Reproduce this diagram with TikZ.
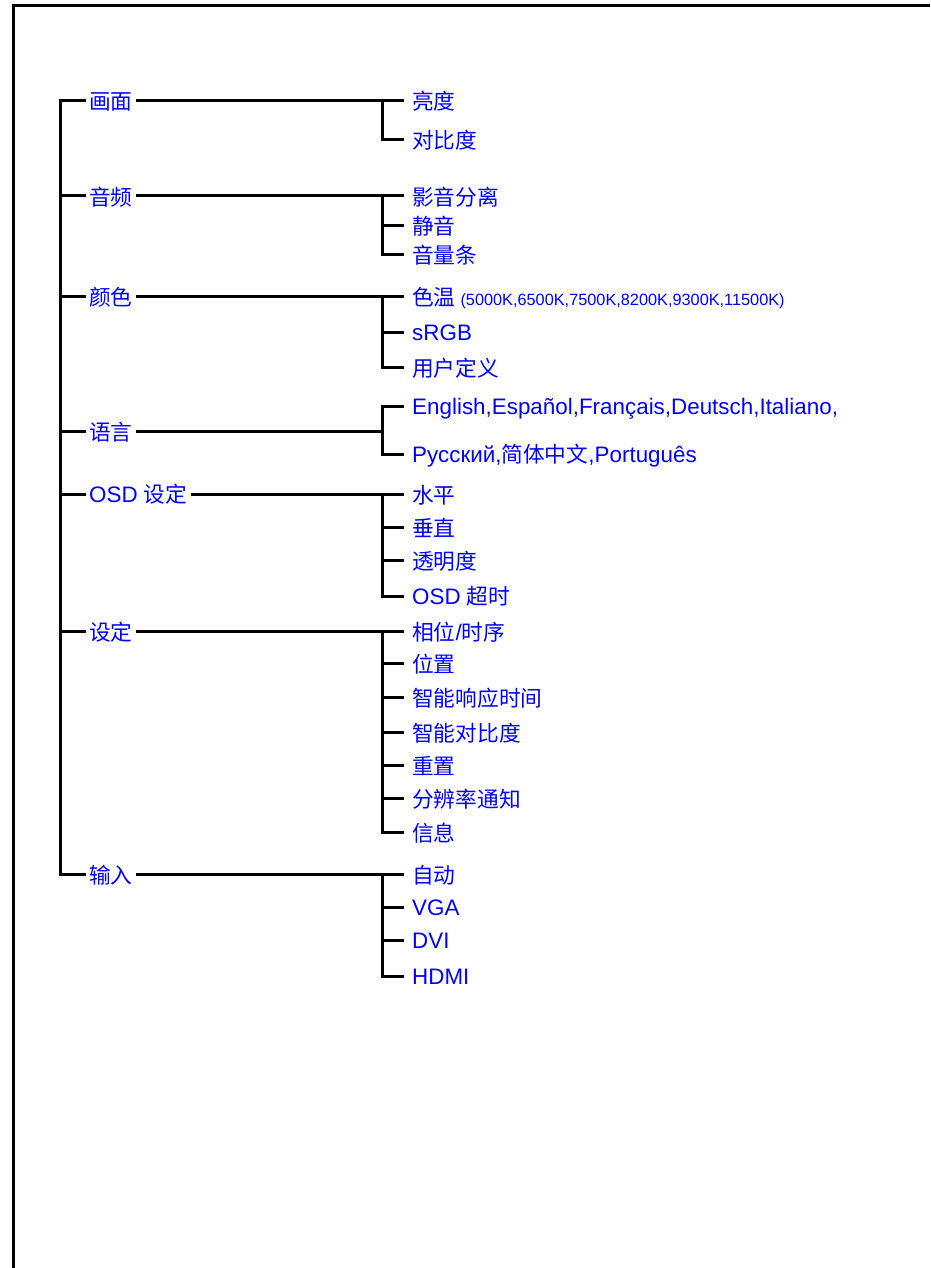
\documentclass[tikz,border=0pt]{standalone}
\usepackage{fontspec}
\setmainfont{Liberation Sans}
\newfontfamily\cjk{Noto Sans CJK SC}[Scale=0.97]
\definecolor{txtblue}{RGB}{0,0,255}
\tikzset{
  ln/.style={line width=3pt, line cap=butt, line join=miter, draw=black},
  frame/.style={line width=3pt, line cap=butt, line join=miter, draw=black},
  cat/.style={anchor=base west, inner xsep=3pt, inner ysep=0pt, text=txtblue, font=\fontsize{22.4}{26}\selectfont},
  leaf/.style={anchor=base west, inner xsep=8pt, inner ysep=0pt, text=txtblue, font=\fontsize{22.4}{26}\selectfont},
}
\begin{document}
\begin{tikzpicture}[x=1pt,y=-1pt]
\useasboundingbox (0,0) rectangle (930,1268);
% frame
\coordinate (fb) at (13.5,1268);
\coordinate (fc) at (13.5,5.5);
\coordinate (fr) at (930,5.5);
\draw[frame] (fb) -- (fc) -- (fr);

% trunk coordinates
\coordinate (t1) at (60,101);
\coordinate (t2) at (60,196);
\coordinate (t3) at (60,296);
\coordinate (t4) at (60,431);
\coordinate (t5) at (60,494);
\coordinate (t6) at (60,631);
\coordinate (t7) at (60,874);

% categories
\node[cat] (c1) at (86,110) {\cjk 画面};
\node[cat] (c2) at (86,205) {\cjk 音频};
\node[cat] (c3) at (86,305) {\cjk 颜色};
\node[cat] (c4) at (86,440) {\cjk 语言};
\node[cat] (c5) at (86,502) {OSD \cjk 设定};
\node[cat] (c6) at (86,640) {\cjk 设定};
\node[cat] (c7) at (86,883) {\cjk 输入};

% branch coordinates
\coordinate (b1) at (382.5,101);
\coordinate (b2) at (382.5,196);
\coordinate (b3) at (382.5,296);
\coordinate (b4) at (382.5,431);
\coordinate (b5) at (382.5,494);
\coordinate (b6) at (382.5,631);
\coordinate (b7) at (382.5,874);

% trunk
\draw[ln] (c1.west |- t1) -- (t1) -- (t7) -- (c7.west |- t7);
\draw[ln] (t2) -- (c2.west |- t2);
\draw[ln] (t3) -- (c3.west |- t3);
\draw[ln] (t4) -- (c4.west |- t4);
\draw[ln] (t5) -- (c5.west |- t5);
\draw[ln] (t6) -- (c6.west |- t6);

% category to branch
\draw[ln] (c1.east |- b1) -- (b1);
\draw[ln] (c2.east |- b2) -- (b2);
\draw[ln] (c3.east |- b3) -- (b3);
\draw[ln] (c4.east |- b4) -- (b4);
\draw[ln] (c5.east |- b5) -- (b5);
\draw[ln] (c6.east |- b6) -- (b6);
\draw[ln] (c7.east |- b7) -- (b7);

% leaf tick coordinates
\coordinate (k11) at (382.5,101);
\coordinate (k12) at (382.5,140);
\coordinate (k21) at (382.5,196);
\coordinate (k22) at (382.5,225);
\coordinate (k23) at (382.5,254);
\coordinate (k31) at (382.5,296);
\coordinate (k32) at (382.5,332);
\coordinate (k33) at (382.5,367);
\coordinate (k41) at (382.5,406);
\coordinate (k42) at (382.5,454);
\coordinate (k51) at (382.5,494);
\coordinate (k52) at (382.5,527);
\coordinate (k53) at (382.5,560);
\coordinate (k54) at (382.5,596);
\coordinate (k61) at (382.5,631);
\coordinate (k62) at (382.5,663);
\coordinate (k63) at (382.5,697);
\coordinate (k64) at (382.5,732);
\coordinate (k65) at (382.5,765);
\coordinate (k66) at (382.5,798);
\coordinate (k67) at (382.5,832);
\coordinate (k71) at (382.5,874);
\coordinate (k72) at (382.5,907);
\coordinate (k73) at (382.5,940);
\coordinate (k74) at (382.5,976);

% leaves
\node[leaf] (l11) at (404,110) {\cjk 亮度};
\node[leaf] (l12) at (404,149) {\cjk 对比度};
\node[leaf] (l21) at (404,205) {\cjk 影音分离};
\node[leaf] (l22) at (404,234) {\cjk 静音};
\node[leaf] (l23) at (404,263) {\cjk 音量条};
\node[leaf] (l31) at (404,305) {\cjk 色温 {\rmfamily\fontsize{16.3}{18}\selectfont (5000K,6500K,7500K,8200K,9300K,11500K)}};
\node[leaf] (l32) at (404,340) {sRGB};
\node[leaf] (l33) at (404,376) {\cjk 用户定义};
\node[leaf] (l41) at (404,414) {English,Español,Français,Deutsch,Italiano,};
\node[leaf] (l42) at (404,462) {Русский,{\cjk 简体中文},Português};
\node[leaf] (l51) at (404,503) {\cjk 水平};
\node[leaf] (l52) at (404,536) {\cjk 垂直};
\node[leaf] (l53) at (404,569) {\cjk 透明度};
\node[leaf] (l54) at (404,604) {OSD \cjk 超时};
\node[leaf] (l61) at (404,640) {\cjk 相位{\rmfamily /}时序};
\node[leaf] (l62) at (404,672) {\cjk 位置};
\node[leaf] (l63) at (404,706) {\cjk 智能响应时间};
\node[leaf] (l64) at (404,741) {\cjk 智能对比度};
\node[leaf] (l65) at (404,774) {\cjk 重置};
\node[leaf] (l66) at (404,807) {\cjk 分辨率通知};
\node[leaf] (l67) at (404,841) {\cjk 信息};
\node[leaf] (l71) at (404,883) {\cjk 自动};
\node[leaf] (l72) at (404,915) {VGA};
\node[leaf] (l73) at (404,948) {DVI};
\node[leaf] (l74) at (404,984) {HDMI};

% branch verticals and ticks
\draw[ln] (l11.west |- k11) -- (k11) -- (k12) -- (l12.west |- k12);
\draw[ln] (l21.west |- k21) -- (k21) -- (k23) -- (l23.west |- k23);
\draw[ln] (k22) -- (l22.west |- k22);
\draw[ln] (l31.west |- k31) -- (k31) -- (k33) -- (l33.west |- k33);
\draw[ln] (k32) -- (l32.west |- k32);
\draw[ln] (l41.west |- k41) -- (k41) -- (k42) -- (l42.west |- k42);
\draw[ln] (l51.west |- k51) -- (k51) -- (k54) -- (l54.west |- k54);
\draw[ln] (k52) -- (l52.west |- k52);
\draw[ln] (k53) -- (l53.west |- k53);
\draw[ln] (l61.west |- k61) -- (k61) -- (k67) -- (l67.west |- k67);
\draw[ln] (k62) -- (l62.west |- k62);
\draw[ln] (k63) -- (l63.west |- k63);
\draw[ln] (k64) -- (l64.west |- k64);
\draw[ln] (k65) -- (l65.west |- k65);
\draw[ln] (k66) -- (l66.west |- k66);
\draw[ln] (l71.west |- k71) -- (k71) -- (k74) -- (l74.west |- k74);
\draw[ln] (k72) -- (l72.west |- k72);
\draw[ln] (k73) -- (l73.west |- k73);
\end{tikzpicture}
\end{document}
